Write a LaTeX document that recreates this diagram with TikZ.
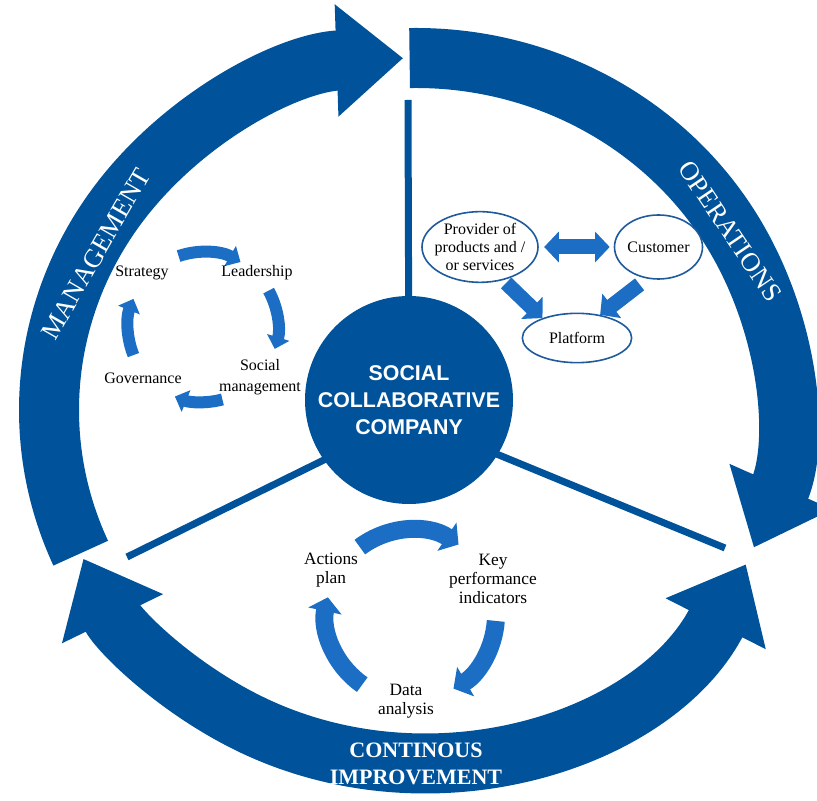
\documentclass[tikz,border=0pt]{standalone}
\usepackage{fontspec}
\setmainfont{Liberation Serif}
\setsansfont{Liberation Sans}
\usetikzlibrary{arrows.meta,shapes.geometric}
\definecolor{darkblue}{HTML}{00539A}
\definecolor{lightblue}{HTML}{1B6EC4}
\definecolor{edgeblue}{HTML}{1F5A9C}

\begin{document}
\begin{tikzpicture}[x=0.75pt,y=0.75pt,
  ringtip/.tip={Triangle[length=50pt,width=81pt]},
  mgmttip/.tip={Triangle[length=9pt,width=17pt]},
  cycletip/.tip={Triangle[length=10.5pt,width=25pt]},
  blocktip/.tip={Triangle[length=11pt,width=22.5pt]},
  ringarrow/.style={draw=darkblue,line width=45pt},
  spoke/.style={draw=darkblue,line width=5.25pt},
  mgmtarrow/.style={draw=lightblue,line width=9pt,-{mgmttip}},
  cyclearrow/.style={draw=lightblue,line width=13.5pt,-{cycletip}},
  blockarrow/.style={draw=lightblue,line width=11.25pt},
  actor/.style={ellipse,draw=edgeblue,line width=1.2pt,fill=white,inner sep=0pt,align=center,font=\fontsize{12}{13.5}\selectfont},
  steplabel/.style={align=center,font=\fontsize{12}{15.5}\selectfont},
  kpilabel/.style={align=center,font=\fontsize{13}{14.5}\selectfont},
  ringlabel/.style={text=white,font=\fontsize{20}{24}\selectfont}]
\useasboundingbox (0,0) rectangle (817,800);
\coordinate (ring) at (416,390);
\draw[ringarrow,-{ringtip}] ([shift={({367*cos(204)},{352*sin(204)})}]ring) arc[start angle=204,end angle=92,x radius=367,y radius=352];
\draw[ringarrow,-{ringtip}] ([shift={({367*cos(91)},{352*sin(91)})}]ring) arc[start angle=91,end angle=-23,x radius=367,y radius=352];
\draw[ringarrow,{ringtip}-{ringtip}] ([shift={({367*cos(-26)},{352*sin(-26)})}]ring) arc[start angle=-26,end angle=-155,x radius=367,y radius=352];
\node[ringlabel,rotate=60] (mgmtlabel) at (96,546) {MANAGEMENT};
\node[ringlabel,rotate=-56] (opslabel) at (730,569) {OPERATIONS};
\node[ringlabel,font=\bfseries\fontsize{16.5}{20}\selectfont,align=center] (cilabel) at (416,36) {CONTINOUS\\IMPROVEMENT};

\coordinate (hub) at (409,382);
\coordinate (topend) at (408,700);
\coordinate (leftend) at (127,243);
\coordinate (rightend) at (725,252);
\draw[spoke] (topend) -- (hub);
\draw[spoke] (leftend) -- (hub);
\draw[spoke] (rightend) -- (hub);
\node[circle,fill=darkblue,minimum size=156pt,text=white,align=center,font=\sffamily\bfseries\fontsize{16}{20}\selectfont] (core) at (409,400) {SOCIAL\\COLLABORATIVE\\COMPANY};

\coordinate (mgmt) at (203,473);
\draw[mgmtarrow] ([shift={(109:75)}]mgmt) arc[start angle=109,end angle=60,radius=75];
\draw[mgmtarrow] ([shift={(29:75)}]mgmt) arc[start angle=29,end angle=-17,radius=75];
\draw[mgmtarrow] ([shift={(-75:75)}]mgmt) arc[start angle=-75,end angle=-112,radius=75];
\draw[mgmtarrow] ([shift={(202:75)}]mgmt) arc[start angle=202,end angle=158,radius=75];
\node[steplabel] (strategy) at (142,527) {Strategy};
\node[steplabel] (leadership) at (257,527) {Leadership};
\node[steplabel] (social) at (260,423) {Social\\management};
\node[steplabel] (governance) at (143,422) {Governance};

\coordinate (kpi) at (411,185);
\draw[cyclearrow] ([shift={(127:85)}]kpi) arc[start angle=127,end angle=56,radius=85];
\draw[cyclearrow] ([shift={(-4:85)}]kpi) arc[start angle=-4,end angle=-60,radius=85];
\draw[cyclearrow] ([shift={(235:85)}]kpi) arc[start angle=235,end angle=168,radius=85];
\node[kpilabel] (actions) at (331,230) {Actions\\plan};
\node[kpilabel] (indicators) at (493,221) {Key\\performance\\indicators};
\node[kpilabel] (analysis) at (406,99) {Data\\analysis};

\node[actor,inner xsep=-5pt,minimum width=87pt,minimum height=53pt] (prov) at (480,553) {Provider of\\products and /\\or services};
\node[actor,minimum width=64pt,minimum height=48pt] (cust) at (658.5,553) {Customer};
\node[actor,minimum width=82pt,minimum height=37pt] (plat) at (577,462) {Platform};
\draw[blockarrow,{blocktip}-{blocktip},shorten <=4pt,shorten >=3pt] (prov) -- (cust);
\draw[blockarrow,-{blocktip},shorten <=3pt] (prov.-55) -- (plat.150);
\draw[blockarrow,-{blocktip},shorten <=7pt] (cust.-110) -- (plat.45);
\end{tikzpicture}
\end{document}
